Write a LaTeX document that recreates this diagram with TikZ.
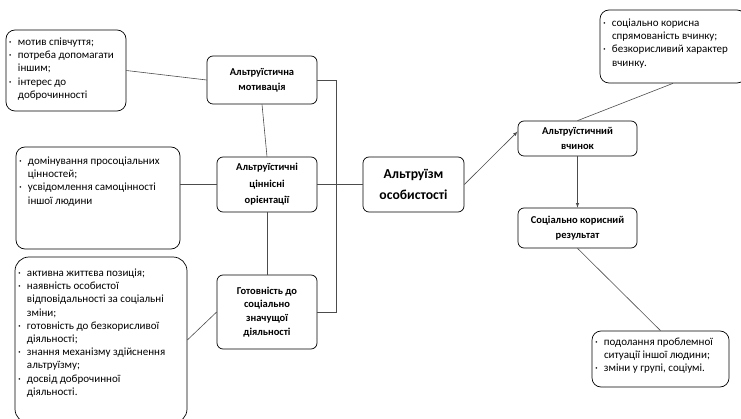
\documentclass[tikz,border=0pt]{standalone}
\usepackage{fontspec}
\setmainfont{Carlito}
\usetikzlibrary{shapes,arrows,positioning}

\newcommand{\lbul}{\makebox[9pt][l]{·}}
\newcommand{\lind}{\hspace*{9pt}}

\begin{document}
\begin{tikzpicture}[x=1pt,y=-1pt]
		\tikzstyle{Factor} 	= [draw, rounded corners=6pt, align=center, inner sep=2pt, line width=0.7pt, font=\bfseries\fontsize{10.5}{15}\selectfont]
		\tikzstyle{Main}	= [Factor, font=\bfseries\fontsize{13.7}{21}\selectfont]
		\tikzstyle{List}	= [draw, rounded corners=9pt, inner sep=3pt, line width=0.7pt, font=\fontsize{11}{13.2}\selectfont]
		\tikzstyle{Link}	= [black!70, line width=0.6pt]

		\useasboundingbox (0,0) rectangle (741,419);

		\node (motiv) at (262,80) [Factor, minimum width=110, minimum height=48] {Альтруїстична\\мотивація};
		\node (values) at (267,184.5) [Factor, minimum width=100, minimum height=55, font=\bfseries\fontsize{10.5}{16.5}\selectfont] {Альтруїстичні\\ціннісні\\орієнтації};
		\node (ready) at (267,312) [Factor, minimum width=100, minimum height=74, font=\bfseries\fontsize{10.5}{13.8}\selectfont] {Готовність до\\соціально\\значущої\\діяльності};
		\node (altr) at (413.5,184.5) [Main, minimum width=101, minimum height=55] {Альтруїзм\\особистості};
		\node (act) at (577.5,138.5) [Factor, minimum width=119, minimum height=35] {Альтруїстичний\\вчинок};
		\node (result) at (577.5,228) [Factor, minimum width=119, minimum height=40] {Соціально корисний\\результат};

		\node (motivList) at (66,70.5) [List] {\parbox[t][75pt][t]{114pt}{\vspace*{5pt}\lbul мотив співчуття;\\ \lbul потреба допомагати\\ \lind іншим;\\ \lbul інтерес до\\ \lind доброчинності}};
		\node (valuesList) at (98,198) [List] {\parbox[t][96pt][t]{158pt}{\vspace*{7pt}\lbul домінування просоціальних\\ \lind цінностей;\\ \lbul усвідомлення самоцінності\\ \lind іншої людини}};
		\node (readyList) at (101,340) [List, rounded corners=14pt] {\parbox[t][160pt][t]{166pt}{\vspace*{9pt}\lbul активна життєва позиція;\\ \lbul наявність особистої\\ \lind відповідальності за соціальні\\ \lind зміни;\\ \lbul готовність до безкорисливої\\ \lind діяльності;\\ \lbul знання механізму здійснення\\ \lind альтруїзму;\\ \lbul досвід доброчинної\\ \lind діяльності.}};
		\node (actList) at (673,46.5) [List] {\parbox[t][67pt][t]{140pt}{\vspace*{6pt}\lbul соціально корисна\\ \lind спрямованість вчинку;\\ \lbul безкорисливий характер\\ \lind вчинку.}};
		\node (resultList) at (660.5,359) [List] {\parbox[t][50pt][t]{131pt}{\vspace*{4pt}\lbul подолання проблемної\\ \lind ситуації іншої людини;\\ \lbul зміни у групі, соціумі.}};

		\draw [Link] (motivList.east) to (motiv.west);
		\draw [Link] (values.west) to (values.west -| valuesList.east);
		\draw [Link] (readyList.east) to (ready.west);
		\draw [Link] (motiv.south) to (values.north);
		\draw [Link] (values.south) to (ready.north);
		\draw [Link] (values.east) to (altr.west);
		\draw [Link] (motiv.east) -- ++(19,0) |- (ready.east);
		\draw [Link, ->, >=latex] (altr.east) to ([yshift=7pt]act.west);
		\draw [Link] (actList.south) to (act.north);
		\draw [Link, ->, >=latex] (act.south) to (result.north);
		\draw [Link] (result.south) to (resultList.north);
	\end{tikzpicture}
\end{document}
